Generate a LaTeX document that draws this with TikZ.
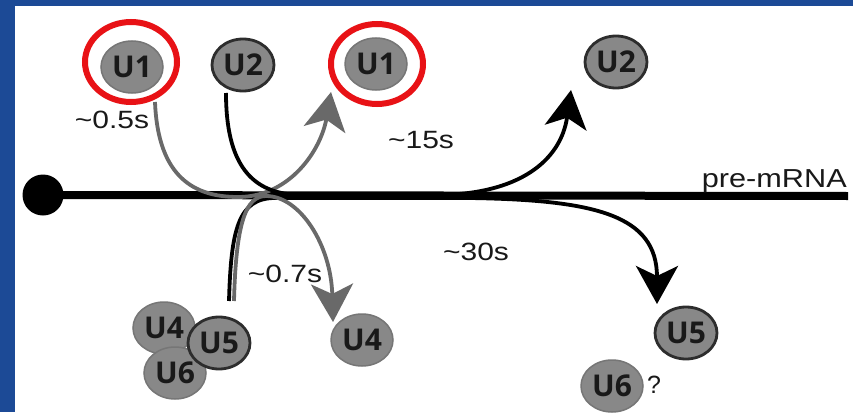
\documentclass[tikz,border=0pt]{standalone}
\usepackage{fontspec}
\setmainfont{Liberation Sans}
\newfontfamily\lblfont{Open Sans}
\usetikzlibrary{arrows.meta,shapes.geometric}
\definecolor{bgblue}{RGB}{28,74,150}
\definecolor{nodegray}{RGB}{136,136,136}
\definecolor{rimlight}{RGB}{118,118,118}
\definecolor{rimdark}{RGB}{45,45,45}
\definecolor{curvegray}{RGB}{105,105,105}
\definecolor{ringred}{RGB}{232,18,22}
\definecolor{txtdark}{RGB}{25,25,25}
\tikzset{
  snrna/.style={ellipse, fill=nodegray, minimum width=62pt, minimum height=52pt, inner sep=0pt,
    font=\lblfont\bfseries\fontsize{30}{30}\selectfont, text=txtdark},
  lightrim/.style={snrna, draw=rimlight, line width=1.5pt},
  darkrim/.style={snrna, draw=rimdark, line width=2.8pt},
  ring/.style={ellipse, draw=ringred, line width=6pt, minimum width=92pt, minimum height=80pt, inner sep=0pt},
  timelbl/.style={font=\fontsize{25}{25}\selectfont, xscale=1.2, inner sep=0pt, text=txtdark},
  blackcurve/.style={draw=black, line width=3.8pt},
  graycurve/.style={draw=curvegray, line width=3.8pt},
  bigtip/.style={-{Stealth[length=38pt, width=42pt, inset=10pt]}},
}
\begin{document}
\begin{tikzpicture}[x=1pt,y=-1pt]
\useasboundingbox (0,0) rectangle (853,412);
\fill[bgblue] (0,0) rectangle (853,412);
\fill[white] (15,6) rectangle (853,412);

% pre-mRNA strand
\node[circle, fill=black, minimum size=41pt, inner sep=0pt] (dot) at (43,195) {};
\coordinate (rnaend) at (848,196);
\draw[line width=8pt] (dot.center) -- (rnaend);
\node[font=\fontsize{26}{26}\selectfont, xscale=1.18, inner sep=0pt, anchor=base east, text=txtdark] (pre) at (847,187) {pre-mRNA};

% snRNP nodes
\node[lightrim] (U1a) at (132,67) {U1};
\node[ring] (R1) at (131,62) {};
\node[darkrim] (U2a) at (243,65) {U2};
\node[lightrim] (U1b) at (376,64) {U1};
\node[ring] (R2) at (377,64) {};
\node[darkrim] (U2b) at (616,62) {U2};

\node[lightrim] (U4a) at (164,328) {U4};
\node[lightrim] (U6a) at (175,373) {U6};
\node[darkrim] (U5a) at (219,343) {U5};
\node[lightrim] (U4b) at (362,340) {U4};
\node[darkrim] (U5b) at (686,333) {U5};
\node[lightrim] (U6b) at (612,386) {U6};
\node[font=\fontsize{25}{25}\selectfont, inner sep=0pt, text=txtdark] (q) at (654,385) {?};

% connector end points
\coordinate (g1s) at (155,102);
\coordinate (g1e) at (331,92);
\coordinate (b2s) at (226,93);
\coordinate (b2e) at (571,90);
\coordinate (bcs) at (229,301);
\coordinate (bce) at (657,304);
\coordinate (gcs) at (234,301);
\coordinate (gce) at (333,322);

% U1 in and out
\draw[graycurve, bigtip] (g1s) .. controls (158,178) and (195,197) .. (238,197)
   .. controls (290,197) and (321,150) .. (g1e);
% U2 in and out
\draw[blackcurve, bigtip] (b2s) .. controls (226,165) and (252,194) .. (300,195)
   -- (435,195) .. controls (520,195) and (561,160) .. (b2e);
% U4/U5/U6 in, U5 out
\draw[blackcurve, bigtip] (bcs) .. controls (231,230) and (238,198) .. (275,198)
   -- (470,198) .. controls (595,200) and (657,215) .. (bce);
% U4 out
\draw[graycurve, bigtip] (gcs) .. controls (236,222) and (246,196) .. (266,196)
   .. controls (300,196) and (331,245) .. (gce);

% time labels
\node[timelbl] (t05) at (112,120) {\textasciitilde0.5s};
\node[timelbl] (t15) at (421,140) {\textasciitilde15s};
\node[timelbl] (t07) at (285,274) {\textasciitilde0.7s};
\node[timelbl] (t30) at (476,252) {\textasciitilde30s};
\end{tikzpicture}
\end{document}
